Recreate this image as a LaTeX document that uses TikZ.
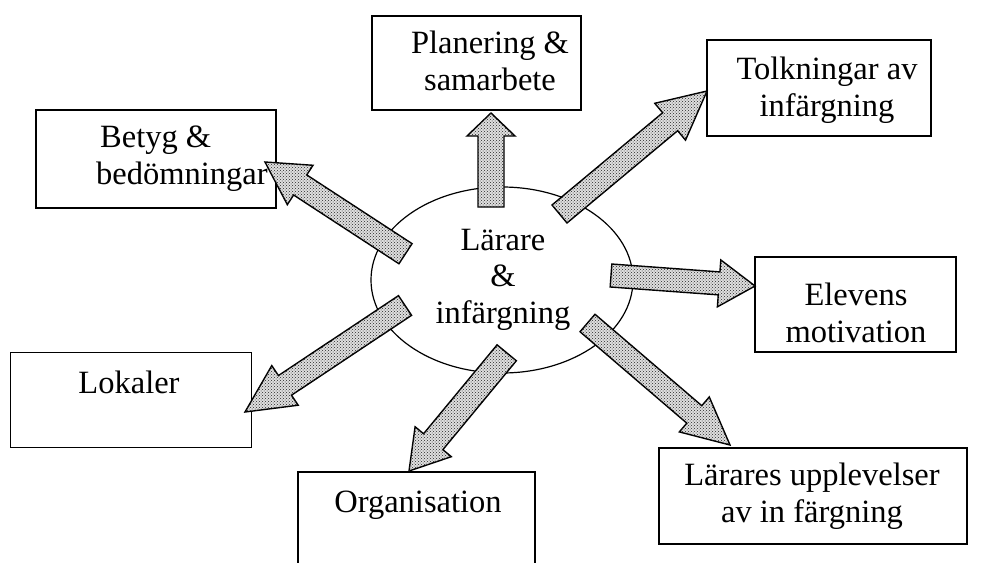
\documentclass[tikz,border=0pt]{standalone}
\usepackage{fontspec}
\setmainfont{Liberation Serif}
\usetikzlibrary{calc,patterns,shapes.geometric}
\tikzset{
  box/.style={draw, line width=1.7pt, rectangle, inner sep=0pt, fill=white},
  lbl/.style={font=\fontsize{32.5}{36.5}\selectfont, align=center, inner sep=0pt, anchor=base},
  blockarrow/.style={draw, line width=1.4pt, line join=miter, fill=gray!25,
    postaction={pattern=crosshatch dots, pattern color=black!85}},
  hub/.style={draw, ellipse, line width=1.2pt, minimum width=262pt, minimum height=186pt, inner sep=0pt},
}
% tail, tip, half shaft width, half head width, head length
\newcommand\blockarr[5]{%
  \coordinate (bb) at ($(#2)!#5!(#1)$);
  \path[blockarrow] ($(#1)!#3!90:(#2)$) -- ($(bb)!#3!90:(#2)$) -- ($(bb)!#4!90:(#2)$)
    -- (#2) -- ($(bb)!#4!-90:(#2)$) -- ($(bb)!#3!-90:(#2)$) -- ($(#1)!#3!-90:(#2)$) -- cycle;
}
\begin{document}
\begin{tikzpicture}[x=1pt,y=-1pt]
\useasboundingbox (0,0) rectangle (984,562);
\clip (0,0) rectangle (984,562);
% hub
\node[hub] (hub) at (502,280) {};
\node[lbl] (thub) at (503,323) {Lärare\\\&\\infärgning};
% boxes
\node[box, minimum width=209pt, minimum height=94pt] (plan) at (476.5,63) {};
\node[box, minimum width=224pt, minimum height=96pt] (tolk) at (819,88) {};
\node[box, minimum width=240pt, minimum height=98pt] (betyg) at (156,159) {};
\node[box, minimum width=201pt, minimum height=95pt] (elev) at (855.5,304.5) {};
\node[box, minimum width=241pt, minimum height=95pt] (lok) at (131,400) {};
\node[box, minimum width=237pt, minimum height=100pt] (org) at (416.5,522) {};
\node[box, minimum width=308pt, minimum height=96pt] (larup) at (813,496) {};
% labels
\node[lbl] (tplan) at (490,90) {Planering \&\\samarbete};
\node[lbl] (ttolk) at (827,116) {Tolkningar av\\infärgning};
\node[lbl, align=left, anchor=base west] (tbetyg) at (96,184) {\hspace*{4pt}Betyg \&\\bedömningar};
\node[lbl] (telev) at (856,342) {Elevens\\motivation};
\node[lbl] (tlok) at (129,393) {Lokaler};
\node[lbl] (torg) at (418,512) {Organisation};
\node[lbl] (tlarup) at (812,522) {Lärares upplevelser\\av in färgning};
% arrow end points
\coordinate (a1t) at (491,207);   \coordinate (a1p) at (491,113);
\coordinate (a2t) at (559.5,214); \coordinate (a2p) at (707,91);
\coordinate (a3t) at (405.5,253.7); \coordinate (a3p) at (265,162);
\coordinate (a4t) at (611,275.5); \coordinate (a4p) at (755,286);
\coordinate (a5t) at (405,305.5); \coordinate (a5p) at (245,412);
\coordinate (a6t) at (506.7,352.8); \coordinate (a6p) at (409,471);
\coordinate (a7t) at (587.5,323); \coordinate (a7p) at (730,445);
\blockarr{a1t}{a1p}{13pt}{24pt}{23pt}
\blockarr{a2t}{a2p}{11.7pt}{24pt}{48pt}
\blockarr{a3t}{a3p}{12pt}{23.5pt}{42pt}
\blockarr{a4t}{a4p}{11.5pt}{23.5pt}{36pt}
\blockarr{a5t}{a5p}{11.8pt}{23.8pt}{48pt}
\blockarr{a6t}{a6p}{12.5pt}{23.5pt}{38pt}
\blockarr{a7t}{a7p}{11.5pt}{23pt}{47pt}
\end{tikzpicture}
\end{document}
